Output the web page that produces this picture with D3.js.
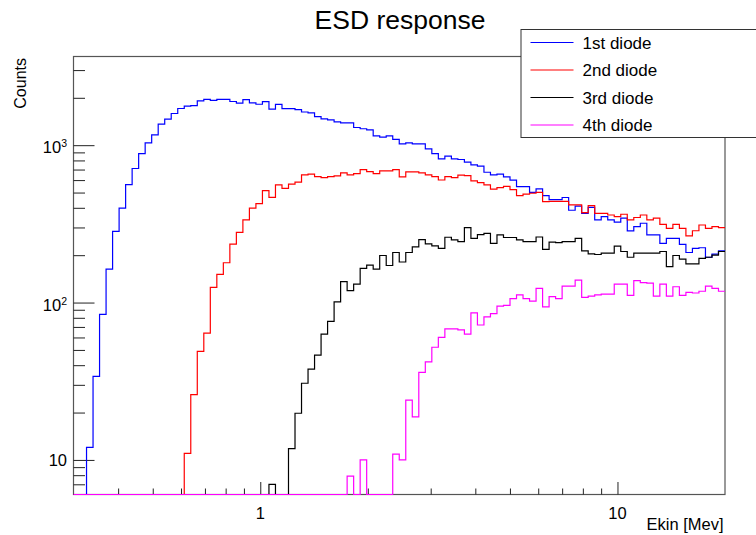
<!DOCTYPE html>
<html>
<head>
<meta charset="utf-8">
<script src="https://cdn.jsdelivr.net/npm/d3@7"></script>
<style>
body { margin: 0; background: #fff; }
svg { display: block; font-family: "Liberation Sans", Arial, Helvetica, sans-serif; }
</style>
</head>
<body>
<div id="chart"></div>
<script>
// histogram binning: 100 bins, equal width in log(E), 0.3 .. 20 MeV
var nBins = 100;
var eLow = 0.3, eHigh = 20;

var names = ["1st diode", "2nd diode", "3rd diode", "4th diode"];
var colors = ["#0000ff", "#ff0000", "#000000", "#ff00ff"];

var diode1 = [0, 0, 12, 34, 84, 163, 283, 398, 562, 711,
  885, 1035, 1163, 1360, 1465, 1590, 1710, 1770, 1785, 1910,
  1955, 1925, 1955, 1955, 1895, 1850, 1950, 1855, 1820, 1890,
  1694, 1815, 1705, 1705, 1680, 1625, 1605, 1518, 1470, 1450,
  1408, 1385, 1385, 1295, 1272, 1252, 1146, 1124, 1146, 1090,
  1020, 1035, 1020, 1020, 948, 885, 818, 851, 818, 811,
  780, 750, 735, 673, 647, 654, 629, 599, 546, 546,
  502, 527, 478, 451, 451, 465, 386, 410, 369, 402,
  335, 352, 335, 324, 344, 285, 304, 319, 269, 269,
  238, 256, 256, 234, 208, 221, 223, 194, 203, 213];

var diode2 = [0, 0, 0, 0, 0, 0, 0, 0, 0, 0,
  0, 0, 0, 0, 0, 0, 0, 11, 26, 49,
  64, 125, 151, 179, 235, 279, 335, 398, 425, 515,
  466, 560, 532, 565, 582, 647, 654, 632, 622, 632,
  638, 667, 647, 660, 700, 680, 660, 687, 687, 700,
  629, 677, 677, 667, 647, 632, 601, 632, 622, 645,
  641, 593, 579, 560, 525, 538, 548, 522, 478, 488,
  495, 502, 438, 440, 440, 440, 417, 417, 373, 413,
  369, 369, 360, 352, 364, 335, 347, 360, 335, 344,
  314, 296, 314, 296, 265, 286, 311, 296, 304, 299];

var diode3 = [0, 0, 0, 0, 0, 0, 0, 0, 0, 0,
  0, 0, 0, 0, 0, 0, 0, 0, 0, 0,
  0, 0, 0, 0, 0, 0, 0, 0, 0, 0,
  7, 0, 0, 11.8, 19.8, 30.7, 37.8, 46.3, 63, 76,
  101, 136, 119, 131, 165, 173, 163, 199, 172, 208,
  181, 208, 226, 251, 236, 229, 221, 260, 250, 244,
  299, 256, 270, 275, 238, 269, 259, 259, 250, 244,
  244, 261, 218, 242, 240, 244, 244, 256, 213, 204,
  202, 206, 206, 228, 211, 194, 206, 206, 206, 206,
  211, 169, 199, 189, 176, 176, 191, 194, 200, 211];

var diode4 = [0, 0, 0, 0, 0, 0, 0, 0, 0, 0,
  0, 0, 0, 0, 0, 0, 0, 0, 0, 0,
  0, 0, 0, 0, 0, 0, 0, 0, 0, 0,
  0, 0, 0, 0, 0, 0, 0, 0, 0, 0,
  0, 0, 7.9, 0, 10, 0, 0, 0, 0, 10.9,
  10, 24, 18.8, 36, 42, 52, 60, 68, 68, 67,
  63, 86, 72, 81, 85, 95, 96, 106, 112, 106,
  102, 123, 94, 109, 106, 127, 127, 139, 108, 110,
  112, 113, 113, 131, 131, 111, 138, 134, 133, 110,
  131, 110, 126, 111, 116, 115, 118, 127, 123, 118];

var yMajor = [10, 100, 1000];
var yMinor = [7, 8, 9, 20, 30, 40, 50, 60, 70, 80, 90,
  200, 300, 400, 500, 600, 700, 800, 900, 2000, 3000];
var xMajor = [1, 10];
var xMinor = [0.4, 0.5, 0.6, 0.7, 0.8, 0.9, 2, 3, 4, 5, 6, 7, 8, 9];

var margin = {top: 56.5, right: 31, bottom: 40.5, left: 73.5};
var width = 756 - margin.left - margin.right;
var height = 535 - margin.top - margin.bottom;

var svg = d3.select("#chart").append("svg")
    .attr("width", 756)
    .attr("height", 535);

var g = svg.append("g")
    .attr("transform", "translate(" + margin.left + "," + margin.top + ")");

var x = d3.scaleLog().domain([eLow, eHigh]).range([0, width]);
var y = d3.scaleLog().domain([6.03, 3660]).range([height, 0]);

var edges = d3.range(nBins + 1).map(function(i) {
  return eLow * Math.pow(eHigh / eLow, i / nBins);
});

// frame
g.append("rect")
  .attr("width", width)
  .attr("height", height)
  .attr("fill", "none")
  .attr("stroke", "#555")
  .attr("stroke-width", 1.2);

// ticks, pointing into the frame
function tickAxis(axis, vals, size) {
  return axis.tickValues(vals).tickSizeInner(-size).tickSizeOuter(0).tickFormat("");
}
var axes = [
  g.append("g").call(tickAxis(d3.axisLeft(y), yMinor, 11.5)),
  g.append("g").call(tickAxis(d3.axisLeft(y), yMajor, 21)),
  g.append("g").attr("transform", "translate(0," + height + ")").call(tickAxis(d3.axisBottom(x), xMinor, 6)),
  g.append("g").attr("transform", "translate(0," + height + ")").call(tickAxis(d3.axisBottom(x), xMajor, 12.5))
];
axes.forEach(function(a) {
  a.select(".domain").remove();
  a.selectAll("line").attr("stroke", "#222").attr("stroke-width", 1);
});

// y labels 10, 10^2, 10^3
var ylab = g.selectAll(".ylab")
  .data(yMajor)
  .enter().append("text")
  .attr("class", "ylab")
  .attr("x", -6.5)
  .attr("y", function(d) { return y(d) + (d === 10 ? 6 : 8.3); })
  .attr("text-anchor", "end")
  .style("font-size", "16.5px")
  .style("fill", "#000");
ylab.append("tspan").text("10");
ylab.filter(function(d) { return d > 10; })
  .append("tspan")
  .attr("dy", -6)
  .style("font-size", "10.5px")
  .text(function(d) { return Math.round(Math.log10(d)); });

g.selectAll(".xlab")
  .data(xMajor)
  .enter().append("text")
  .attr("class", "xlab")
  .attr("x", function(d) { return x(d); })
  .attr("y", height + 24.5)
  .attr("text-anchor", "middle")
  .style("font-size", "16.5px")
  .text(function(d) { return d; });

// histograms
var line = d3.line()
  .x(function(d) { return x(d.e); })
  .y(function(d) { return y(Math.max(d.v, y.domain()[0])); })
  .curve(d3.curveStepAfter);

[diode1, diode2, diode3, diode4].forEach(function(vals, k) {
  var pts = edges.map(function(e, i) {
    return {e: e, v: vals[Math.min(i, nBins - 1)]};
  });
  g.append("path")
    .datum(pts)
    .attr("d", line)
    .attr("fill", "none")
    .attr("stroke", colors[k])
    .attr("stroke-width", 1.2);
});

//title
svg.append("text")
  .attr("x", 400)
  .attr("y", 28.5)
  .attr("text-anchor", "middle")
  .style("font-size", "26.5px")
  .text("ESD response");

// axis titles
svg.append("text")
  .attr("transform", "translate(26,58) rotate(-90)")
  .attr("text-anchor", "end")
  .style("font-size", "16px")
  .text("Counts");

svg.append("text")
  .attr("x", 723.5)
  .attr("y", 530)
  .attr("text-anchor", "end")
  .style("font-size", "16.5px")
  .text("Ekin [Mev]");

// legend
var leg = svg.append("g");
leg.append("rect")
  .attr("x", 521)
  .attr("y", 29.5)
  .attr("width", 250)
  .attr("height", 108)
  .attr("fill", "#fff")
  .attr("stroke", "#333")
  .attr("stroke-width", 1);

var rowY = [42.5, 70, 97.5, 125];
names.forEach(function(n, k) {
  leg.append("line")
    .attr("x1", 530.5).attr("x2", 573.5)
    .attr("y1", rowY[k]).attr("y2", rowY[k])
    .attr("stroke", colors[k])
    .attr("stroke-width", 1.2);
  leg.append("text")
    .attr("x", 582.5)
    .attr("y", rowY[k] + 6)
    .style("font-size", "17px")
    .text(n);
});
</script>
</body>
</html>
